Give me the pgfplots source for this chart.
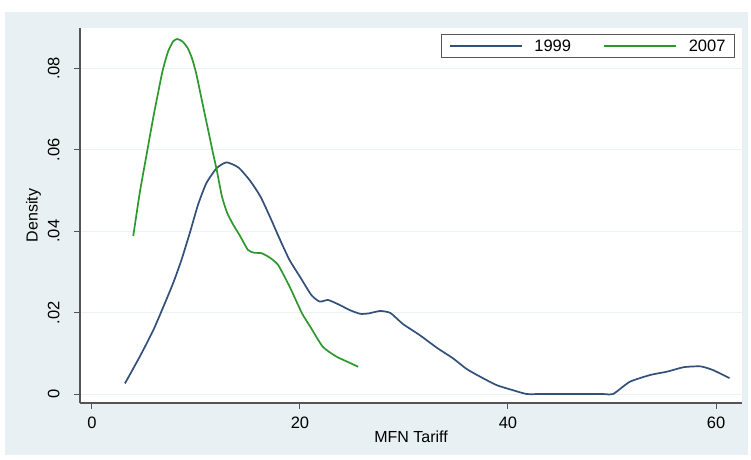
\documentclass[border=0pt]{standalone}
\usepackage{pgfplots}
\pgfplotsset{compat=1.18}
\usepackage{fontspec}
\setmainfont{Liberation Sans}
\definecolor{bgblue}{RGB}{232,240,243}
\definecolor{gridc}{RGB}{236,241,243}
\definecolor{axc}{RGB}{85,85,85}
\definecolor{c1999}{RGB}{50,80,122}
\definecolor{c2007}{RGB}{45,152,45}
\begin{document}
\begin{tikzpicture}[x=1pt,y=1pt]
\path[use as bounding box] (0,0) rectangle (751,459);
\fill[bgblue] (5,4) rectangle (748,447);
\begin{axis}[
  at={(80pt,56pt)}, anchor=south west,
  scale only axis, width=662pt, height=375pt,
  xmin=-1.15, xmax=62.5, ymin=-0.0022, ymax=0.0899,
  axis background/.style={fill=white},
  axis x line*=bottom, axis y line*=left,
  axis line style={axc, line width=1.2pt, -},
  xtick={0,20,40,60},
  ytick={0,0.02,0.04,0.06,0.08},
  yticklabels={0,.02,.04,.06,.08},
  scaled y ticks=false,
  tick align=outside, major tick length=6pt,
  tick style={axc, line width=1pt},
  ymajorgrids, grid style={gridc, line width=1pt},
  /pgf/number format/assume math mode=true,
  tick label style={font=\fontsize{16.5}{19}\selectfont},
  yticklabel style={rotate=90, anchor=south, yshift=3pt},
  yticklabel shift=8pt, xticklabel shift=4pt,
  xlabel={MFN Tariff}, ylabel={Density},
  label style={font=\fontsize{16}{19}\selectfont},
  xlabel style={yshift=4pt},
  ylabel style={yshift=0pt},
  legend columns=2,
  legend style={at={(0.9894,0.984)}, anchor=north east, draw=axc, line width=1pt,
    fill=white, font=\fontsize{16.5}{19}\selectfont, inner xsep=7pt, inner ysep=3pt,
    /tikz/every even column/.append style={column sep=30pt}},
  legend image code/.code={\draw[#1] (0pt,0pt) -- (72pt,0pt); \path (82pt,0pt);},
]
\addplot[c1999, line width=1.7pt, smooth, tension=0.35] coordinates {
(3.17,0.0026) (4.6,0.0092) (5.9,0.0157) (6.86,0.0214) (7.8,0.0272) (8.6,0.0329)
(9.4,0.0395) (10.2,0.0465) (11.0,0.0518) (12.0,0.0555) (12.95,0.0569) (14.1,0.0556)
(15.2,0.0524) (16.2,0.0485) (17.1,0.0436) (18.1,0.0378) (19.0,0.0329) (20.0,0.0288)
(21.1,0.0243) (21.9,0.0227) (22.7,0.0231) (23.8,0.0219) (24.8,0.0206) (25.8,0.0197)
(26.6,0.0198) (27.7,0.0204) (28.7,0.0199) (29.9,0.0172) (31.5,0.0145) (33.2,0.0113)
(34.7,0.0088) (36.0,0.0062) (37.3,0.0043) (38.9,0.0022) (40.4,0.0010) (41.8,0.0)
(43.0,0.0) (49.0,0.0) (50.1,0.0) (51.7,0.0030) (53.7,0.0047) (55.3,0.0055)
(56.9,0.0066) (58.5,0.0068) (59.7,0.0059) (61.3,0.0039)};
\addlegendentry{1999}
\addplot[c2007, line width=1.7pt, smooth, tension=0.35] coordinates {
(3.97,0.0388) (4.6,0.0495) (5.3,0.0595) (5.9,0.0680) (6.4,0.0745) (6.8,0.0795)
(7.3,0.0840) (7.8,0.0866) (8.2,0.0872) (8.7,0.0866) (9.2,0.0850) (9.6,0.0826)
(10.0,0.0790) (10.4,0.0742) (10.8,0.0693) (11.2,0.0645) (11.6,0.0596) (12.0,0.0550)
(12.5,0.0485) (13.0,0.0445) (13.6,0.0415) (14.2,0.0390) (15.0,0.0354) (15.6,0.0347)
(16.3,0.0346) (17.1,0.0335) (17.9,0.0317) (19.0,0.0264) (20.2,0.0198) (21.0,0.0165)
(22.2,0.0116) (23.5,0.0092) (24.5,0.0080) (25.6,0.0067)};
\addlegendentry{2007}
\end{axis}
\end{tikzpicture}
\end{document}
